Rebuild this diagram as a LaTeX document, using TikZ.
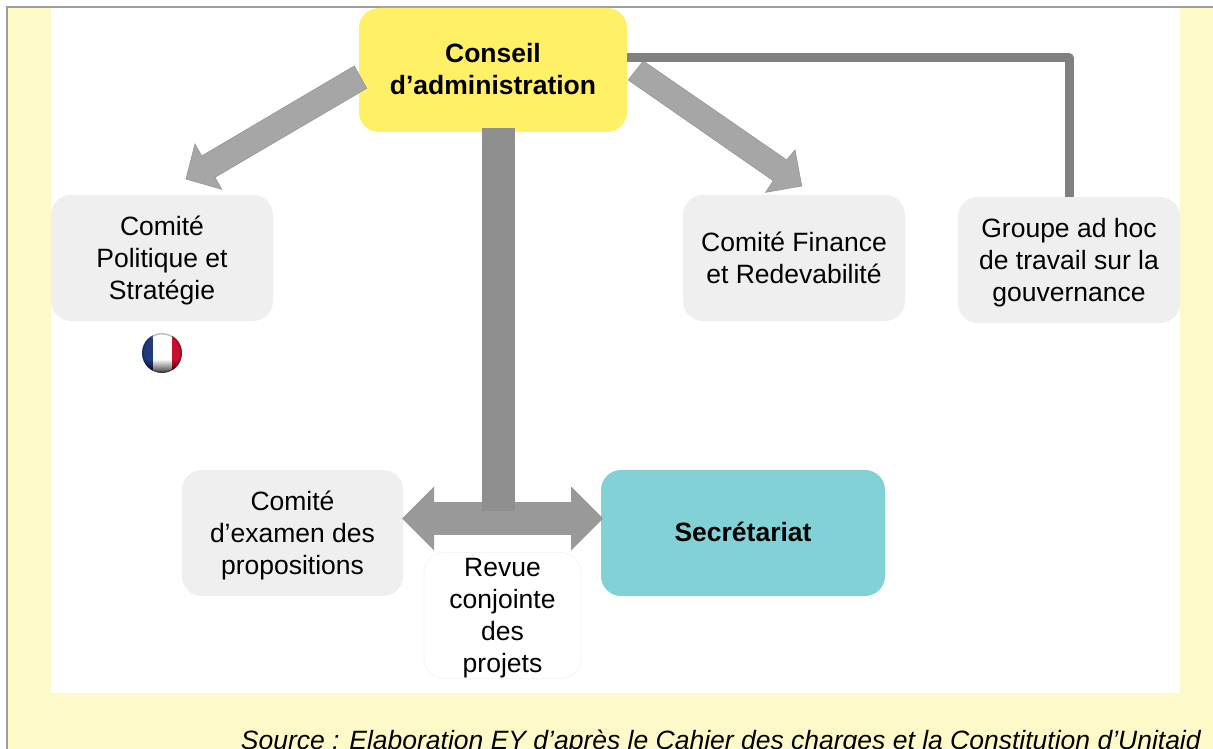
\documentclass[tikz,border=0pt]{standalone}
\usepackage{fontspec}
\setmainfont{Liberation Sans}
\usetikzlibrary{arrows.meta,calc}
\definecolor{pagey}{HTML}{FEF9C9}
\definecolor{boxy}{HTML}{FFF066}
\definecolor{boxg}{HTML}{EFEFEF}
\definecolor{boxt}{HTML}{82D1D6}
\definecolor{arrowg}{HTML}{A6A6A6}
\definecolor{arrowl}{HTML}{999999}
\definecolor{flagb}{HTML}{1F3A7D}
\definecolor{flagr}{HTML}{C8102E}
\newcommand{\firstln}{\rule{0pt}{24pt}}
\newcommand{\lastln}{\rule[-6pt]{0pt}{6pt}}
\tikzset{
  x=1pt,y=-1pt,
  basebox/.style={rounded corners=20pt,inner sep=0pt,align=center,font=\fontsize{26.5}{32}\selectfont,text=black},
  greybox/.style={basebox,fill=boxg,minimum width=222pt,minimum height=126pt},
  boldbox/.style={font=\fontsize{26.5}{32}\selectfont\bfseries},
  blockarrow/.style={fill=arrowg,draw=arrowl,line width=.7pt,line join=miter},
  dbltip/.tip={Triangle[line width=0pt,length=32pt,width=64pt,fill=black!40]},
}
\begin{document}
\begin{tikzpicture}
\useasboundingbox (0,0) rectangle (1213,749);
\begin{scope}
\clip (0,0) rectangle (1213,749);
\fill[pagey] (7,7) rectangle (1213,749);
\draw[color=gray!75,line width=2pt] (1213,7) -- (7,7) -- (7,749);
\fill[white] (51,8) rectangle (1180,693);

\node[basebox,boldbox,fill=boxy,minimum width=268pt,minimum height=124pt] (conseil) at (493,70) {\firstln Conseil\\d’administration\lastln};
\node[greybox] (politique) at (162,258) {\firstln Comité\\Politique et\\Stratégie\lastln};
\node[greybox] (finance) at (794,258) {\firstln Comité Finance\\et Redevabilité\lastln};
\node[greybox] (groupe) at (1069,260) {\firstln Groupe ad hoc\\de travail sur la\\gouvernance\lastln};
\node[greybox,minimum width=221pt] (examen) at (292.5,533) {\firstln Comité\\d’examen des\\propositions\lastln};
\node[basebox,boldbox,fill=boxt,minimum width=284pt,minimum height=126pt] (secretariat) at (743,533) {\firstln\raisebox{1pt}{Secrétariat}\lastln};
\node[basebox,draw=boxg!60,line width=.8pt,minimum width=157pt,minimum height=125pt] (revue) at (502.5,615.5) {\firstln Revue\\conjointe\\des\\projets\lastln};

\coordinate (barTop) at (498.5,128);
\coordinate (barEnd) at (498.5,511);
\coordinate (dblL) at (402,518.5);
\coordinate (dblR) at (603,518.5);

\coordinate (tailLa) at (354.3,66);
\coordinate (shaftLa) at (201.7,156);
\coordinate (barbLa) at (195,144);
\coordinate (tipL) at (186,179);
\coordinate (barbLb) at (221.7,189.3);
\coordinate (shaftLb) at (215,177.3);
\coordinate (tailLb) at (366.7,88.3);
\draw[blockarrow] (tailLa) -- (shaftLa) -- (barbLa) -- (tipL) -- (barbLb) -- (shaftLb) -- (tailLb) -- cycle;

\coordinate (tailRa) at (643.3,61);
\coordinate (shaftRa) at (786.7,160);
\coordinate (barbRa) at (795,150);
\coordinate (tipR) at (801.7,186);
\coordinate (barbRb) at (765.7,192.3);
\coordinate (shaftRb) at (773.3,180.7);
\coordinate (tailRb) at (628.3,80);
\draw[blockarrow] (tailRa) -- (shaftRa) -- (barbRa) -- (tipR) -- (barbRb) -- (shaftRb) -- (tailRb) -- cycle;

\draw[color=gray,line width=9pt,line join=round] ($(conseil.east)+(0,-12)$) -| (groupe.north);
\draw[color=black!40,line width=33pt,{dbltip}-{dbltip}] (dblL) -- (dblR);
\draw[color=black!44,line width=33pt] (barTop) -- (barEnd);

\node[circle,minimum size=40pt,inner sep=0pt] (flag) at (162,353) {};
\begin{scope}
\clip (162,353) circle (20);
\fill[white] (142,333) rectangle (182,373);
\fill[flagb] (142,333) rectangle (153,373);
\fill[flagr] (172,333) rectangle (182,373);
\foreach \i in {0,...,5}{
  \pgfmathsetmacro{\op}{0.75-0.14*\i}
  \fill[white,opacity=\op] (142,{333+\i}) rectangle (182,{334+\i});
}
\foreach \i in {0,...,13}{
  \pgfmathsetmacro{\op}{0.055*\i}
  \fill[black,opacity=\op] (142,{359+\i}) rectangle (182,{360+\i});
}
\draw[black,opacity=.25,line width=2pt] (162,353) circle (19.5);
\end{scope}

\node[anchor=base east,inner sep=0pt,font=\fontsize{26.5}{30}\selectfont\itshape] (source) at (1201,749) {Source : Elaboration EY d’après le Cahier des charges et la Constitution d’Unitaid};
\end{scope}
\end{tikzpicture}
\end{document}
